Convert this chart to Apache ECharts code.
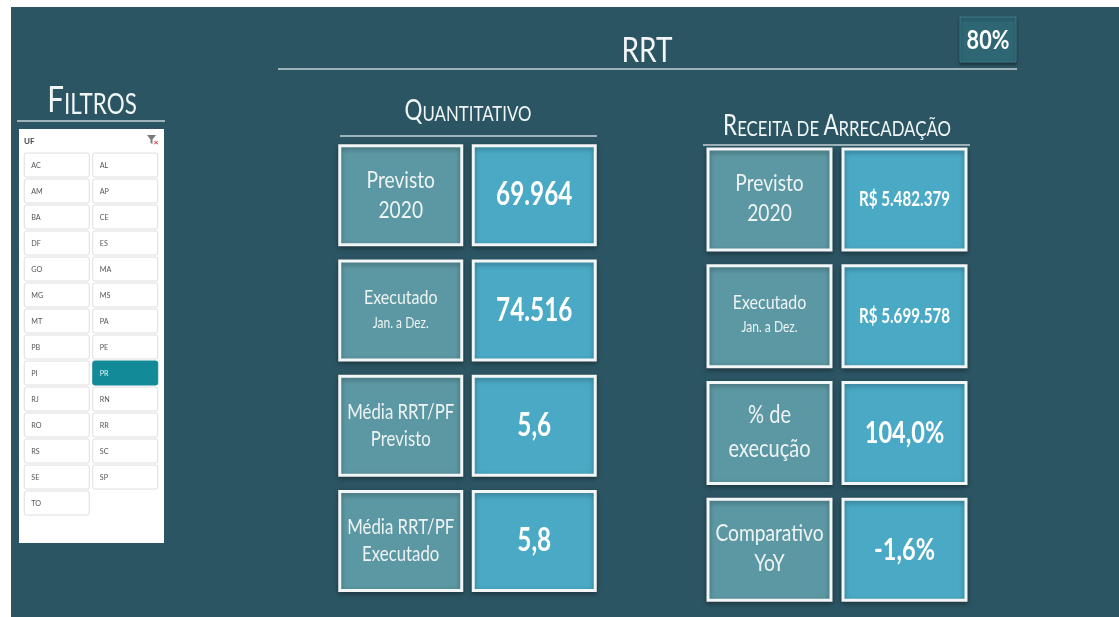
<!DOCTYPE html>
<html>
<head>
<meta charset="utf-8">
<title>RRT</title>
<script src="https://cdn.jsdelivr.net/npm/echarts@6/dist/echarts.min.js"></script>
<style>
  html, body { margin: 0; padding: 0; background: #ffffff; }
  #chart { width: 1119px; height: 617px; }
</style>
</head>
<body>
<div id="chart"></div>
<script>
// ---- data ----
const ufs = ['AC', 'AL', 'AM', 'AP', 'BA', 'CE', 'DF', 'ES', 'GO', 'MA', 'MG', 'MS', 'MT', 'PA',
  'PB', 'PE', 'PI', 'PR', 'RJ', 'RN', 'RO', 'RR', 'RS', 'SC', 'SE', 'SP', 'TO'];
const ufSelecionada = 'PR';

const quantLabels = [['Previsto', '2020'], ['Executado', 'Jan. a Dez.'], ['Média RRT/PF', 'Previsto'], ['Média RRT/PF', 'Executado']];
const quantValues = [69964, 74516, 5.6, 5.8];
const quantDecimals = [0, 0, 1, 1];

const receitaLabels = [['Previsto', '2020'], ['Executado', 'Jan. a Dez.'], ['% de', 'execução'], ['Comparativo', 'YoY']];
const receitaValues = [5482379, 5699578, 104.0, -1.6];
const receitaFormats = ['brl', 'brl', 'pct', 'pct'];

const tituloPagina = 'RRT';
const zoomLabel = '80%';

// ---- helpers ----
const FONT = 'Lato, "Open Sans", sans-serif';
const SQ = 0.8;   // horizontal squeeze, the source text is condensed
const SQV = 0.76; // squeeze for the bold values

function fmtBR(v, dec) {
  const neg = v < 0;
  const parts = Math.abs(v).toFixed(dec).split('.');
  const int = parts[0].replace(/\B(?=(\d{3})+(?!\d))/g, '.');
  return (neg ? '-' : '') + int + (parts[1] ? ',' + parts[1] : '');
}
function fmtReceita(v, kind) {
  return kind === 'brl' ? 'R$ ' + fmtBR(v, 0) : fmtBR(v, 1) + '%';
}

const chart = echarts.init(document.getElementById('chart'), null, { renderer: 'canvas' });

// tile renderer shared by both KPI blocks
function tileRenderer(labels, valueTexts, w, h, labelSizes, valueSize, labelDy) {
  return function (params, api) {
    const col = api.value(0);
    const i = api.value(2);
    const c = api.coord([col, api.value(1)]);
    const isLabel = col === 0;
    const rect = {
      type: 'rect',
      shape: { x: c[0] - w / 2, y: c[1] - h / 2, width: w, height: h },
      style: {
        fill: isLabel ? '#5c98a3' : '#4aa9c5',
        stroke: '#f2f6f7',
        lineWidth: 3,
        shadowBlur: 5,
        shadowColor: 'rgba(0,0,0,0.35)',
        shadowOffsetY: 2
      }
    };
    let txt;
    if (isLabel) {
      const s = labelSizes[i];
      txt = {
        type: 'text', x: c[0], y: c[1] + labelDy, scaleX: SQ,
        style: {
          text: '{a|' + labels[i][0] + '}\n{b|' + labels[i][1] + '}',
          align: 'center', verticalAlign: 'middle',
          rich: {
            a: { fontFamily: FONT, fontSize: s[0], lineHeight: s[2], fill: '#eef4f4', align: 'center' },
            b: { fontFamily: FONT, fontSize: s[1], lineHeight: s[2], fill: '#eef4f4', align: 'center' }
          },
          shadowColor: 'rgba(0,0,0,0.35)', shadowBlur: 2, shadowOffsetX: 1, shadowOffsetY: 1
        }
      };
    } else {
      txt = {
        type: 'text', x: c[0], y: c[1], scaleX: SQV,
        style: {
          text: valueTexts[i],
          fill: '#ffffff', fontFamily: FONT, fontWeight: 'bold', fontSize: valueSize[i],
          align: 'center', verticalAlign: 'middle',
          shadowColor: 'rgba(0,0,0,0.55)', shadowBlur: 3, shadowOffsetX: 1, shadowOffsetY: 1
        }
      };
    }
    return { type: 'group', children: [rect, txt] };
  };
}

const quantTexts = quantValues.map((v, i) => fmtBR(v, quantDecimals[i]));
const receitaTexts = receitaValues.map((v, i) => fmtReceita(v, receitaFormats[i]));

function tileData(n) {
  const out = [];
  for (let i = 0; i < n; i++) { out.push([0, i, i]); out.push([1, i, i]); }
  return out;
}

const quantLabelSizes = [[24, 24, 30], [20, 15, 25], [21, 21, 27], [21, 21, 27]];
const receitaLabelSizes = [[24, 24, 30], [20, 15, 25], [25, 25, 34], [24, 24, 30]];

const ufRows = Math.ceil(ufs.length / 2);
const ufData = ufs.map((u, i) => [i % 2, Math.floor(i / 2), i]);

const hiddenCat = (n, grid, inverse) => ({
  type: 'category', gridIndex: grid, show: false, inverse: !!inverse,
  data: Array.from({ length: n }, (_, k) => String(k))
});

function smallCaps(parts) {
  // parts: [text, isBig]
  return parts.map(p => (p[1] ? '{B|' : '{S|') + p[0] + '}').join('');
}
function headingStyle(text, big, small) {
  return {
    text: text, align: 'center', verticalAlign: 'middle',
    rich: {
      B: { fontFamily: FONT, fontSize: big, fill: '#f0f5f5', verticalAlign: 'bottom' },
      S: { fontFamily: FONT, fontSize: small, fill: '#f0f5f5', verticalAlign: 'bottom' }
    }
  };
}

const lineStyle = { stroke: '#c5d3d7', lineWidth: 1.5 };

chart.setOption({
  backgroundColor: '#ffffff',
  animation: false,
  grid: [
    { left: 22.5, top: 152, width: 137, height: 26 * ufRows },
    { left: 334, top: 137.5, width: 267, height: 461 },
    { left: 702, top: 141, width: 270, height: 467 }
  ],
  xAxis: [hiddenCat(2, 0), hiddenCat(2, 1), hiddenCat(2, 2)],
  yAxis: [hiddenCat(ufRows, 0, true), hiddenCat(4, 1, true), hiddenCat(4, 2, true)],
  graphic: [
    // dark panel
    { type: 'rect', z: -10, shape: { x: 11, y: 7, width: 1108, height: 610 }, style: { fill: '#2c5563' } },
    // title
    { type: 'text', x: 647, y: 51, scaleX: SQ, style: { text: tituloPagina, fill: '#f2f6f6', fontFamily: FONT, fontSize: 35, align: 'center', verticalAlign: 'middle' } },
    { type: 'line', shape: { x1: 278, y1: 69, x2: 1017, y2: 69 }, style: lineStyle },
    // zoom box
    { type: 'rect', shape: { x: 960, y: 17, width: 56, height: 45 }, style: { fill: '#2e6674', stroke: '#3f7b88', lineWidth: 1, shadowBlur: 3, shadowColor: 'rgba(0,0,0,0.4)', shadowOffsetY: 2 } },
    { type: 'text', x: 988, y: 40, scaleX: SQ, style: { text: zoomLabel, fill: '#ffffff', fontFamily: FONT, fontWeight: 'bold', fontSize: 27, align: 'center', verticalAlign: 'middle' } },
    // FILTROS heading
    { type: 'text', x: 92, y: 100, scaleX: SQ, style: headingStyle(smallCaps([['F', 1], ['ILTROS', 0]]), 37, 28) },
    { type: 'line', shape: { x1: 17, y1: 121, x2: 165, y2: 121 }, style: lineStyle },
    // filter panel
    { type: 'rect', shape: { x: 19, y: 129, width: 145, height: 414 }, style: { fill: '#ffffff' } },
    { type: 'text', x: 24, y: 141, style: { text: 'UF', fill: '#444444', fontFamily: FONT, fontSize: 8, fontWeight: 'bold', verticalAlign: 'middle' } },
    { type: 'polygon', shape: { points: [[147, 135], [156, 135], [152.5, 139.5], [152.5, 144], [150.5, 143], [150.5, 139.5]] }, style: { fill: '#7a7a7a' } },
    { type: 'text', x: 156, y: 143, style: { text: '×', fill: '#e04040', fontSize: 8, fontWeight: 'bold', align: 'center', verticalAlign: 'middle' } },
    // QUANTITATIVO heading
    { type: 'text', x: 468, y: 111, scaleX: SQ, style: headingStyle(smallCaps([['Q', 1], ['UANTITATIVO', 0]]), 28, 21) },
    { type: 'line', shape: { x1: 340, y1: 136, x2: 597, y2: 136 }, style: lineStyle },
    // RECEITA heading
    { type: 'text', x: 837, y: 126, scaleX: SQ, style: headingStyle(smallCaps([['R', 1], ['ECEITA DE ', 0], ['A', 1], ['RRECADAÇÃO', 0]]), 28, 21) },
    { type: 'line', shape: { x1: 703, y1: 145, x2: 970, y2: 145 }, style: lineStyle }
  ],
  series: [
    {
      type: 'custom', name: 'UF', xAxisIndex: 0, yAxisIndex: 0, z: 5,
      data: ufData,
      renderItem: function (params, api) {
        const c = api.coord([api.value(0), api.value(1)]);
        const uf = ufs[api.value(2)];
        const sel = uf === ufSelecionada;
        const w = 65, h = 24;
        return {
          type: 'group',
          children: [
            { type: 'rect', shape: { x: c[0] - w / 2, y: c[1] - h / 2, width: w, height: h, r: 2 },
              style: { fill: sel ? '#128a97' : '#ffffff', stroke: sel ? '#128a97' : '#dedede', lineWidth: 1 } },
            { type: 'text', x: c[0] - w / 2 + 7, y: c[1], scaleX: 0.9,
              style: { text: uf, fill: sel ? '#e8f6f8' : '#555555', fontFamily: FONT, fontSize: 8, verticalAlign: 'middle' } }
          ]
        };
      }
    },
    {
      type: 'custom', name: 'Quantitativo', xAxisIndex: 1, yAxisIndex: 1, z: 5,
      data: tileData(quantValues.length),
      renderItem: tileRenderer(quantLabels, quantTexts, 122, 99, quantLabelSizes, [32, 32, 32, 32], 0)
    },
    {
      type: 'custom', name: 'Receita', xAxisIndex: 2, yAxisIndex: 2, z: 5,
      data: tileData(receitaValues.length),
      renderItem: tileRenderer(receitaLabels, receitaTexts, 123, 101, receitaLabelSizes, [20, 20, 31, 31], -1)
    }
  ]
});
</script>
</body>
</html>
